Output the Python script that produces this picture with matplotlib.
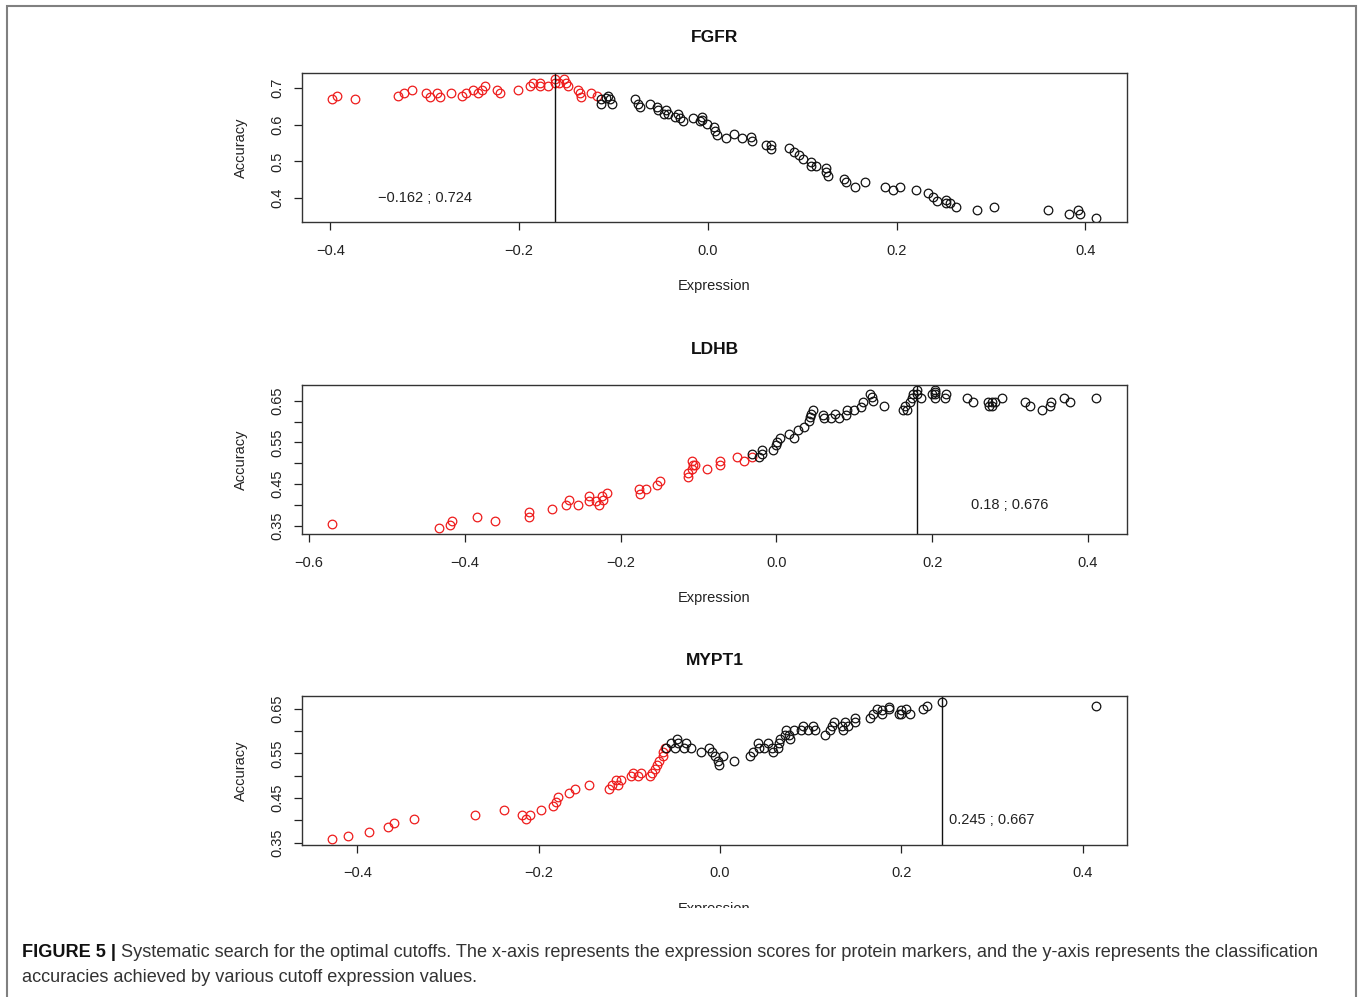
import matplotlib
matplotlib.use('Agg')
from matplotlib import pyplot as plt
from matplotlib.patches import Rectangle

plt.rcParams['font.family'] = ['Liberation Sans', 'DejaVu Sans']

names = ['FGFR', 'LDHB', 'MYPT1']
cutoffs = [-0.162, 0.18, 0.245]
notes = ['\u22120.162 ; 0.724', '0.18 ; 0.676', '0.245 ; 0.667']
note_x = [-0.3, 0.3, 0.3]
note_y = [0.4, 0.4, 0.4]

# FGFR
fgfr_red_x = [-0.398, -0.393, -0.374, -0.328, -0.322, -0.314, -0.299, -0.294, -0.287, -0.284,
              -0.272, -0.261, -0.256, -0.249, -0.244, -0.239, -0.236, -0.223, -0.220, -0.201,
              -0.189, -0.185, -0.178, -0.178, -0.169, -0.162, -0.162, -0.158, -0.152, -0.150,
              -0.148, -0.138, -0.136, -0.134, -0.124, -0.118]
fgfr_red_y = [0.669, 0.678, 0.669, 0.678, 0.686, 0.695, 0.686, 0.676, 0.686, 0.676,
              0.686, 0.678, 0.686, 0.695, 0.686, 0.695, 0.706, 0.695, 0.686, 0.695,
              0.706, 0.715, 0.715, 0.706, 0.706, 0.724, 0.715, 0.715, 0.724, 0.715,
              0.706, 0.695, 0.686, 0.676, 0.686, 0.678]
fgfr_blk_x = [-0.113, -0.113, -0.108, -0.106, -0.104, -0.102, -0.077, -0.074, -0.072, -0.061,
              -0.054, -0.053, -0.047, -0.044, -0.042, -0.035, -0.032, -0.030, -0.026, -0.016,
              -0.008, -0.006, -0.006, -0.001, 0.006, 0.008, 0.010, 0.019, 0.028, 0.036,
              0.046, 0.047, 0.062, 0.067, 0.067, 0.086, 0.091, 0.096, 0.101, 0.109,
              0.109, 0.114, 0.125, 0.125, 0.127, 0.144, 0.146, 0.156, 0.166, 0.188,
              0.196, 0.204, 0.220, 0.233, 0.238, 0.243, 0.252, 0.252, 0.256, 0.263,
              0.285, 0.303, 0.360, 0.383, 0.392, 0.394, 0.411]
fgfr_blk_y = [0.669, 0.656, 0.672, 0.678, 0.669, 0.656, 0.669, 0.656, 0.648, 0.656,
              0.648, 0.640, 0.630, 0.640, 0.630, 0.622, 0.630, 0.618, 0.611, 0.619,
              0.611, 0.622, 0.613, 0.602, 0.593, 0.583, 0.572, 0.565, 0.574, 0.565,
              0.567, 0.556, 0.545, 0.545, 0.534, 0.536, 0.527, 0.517, 0.506, 0.499,
              0.488, 0.488, 0.481, 0.470, 0.461, 0.452, 0.443, 0.431, 0.443, 0.431,
              0.422, 0.431, 0.422, 0.413, 0.404, 0.393, 0.395, 0.386, 0.386, 0.377,
              0.368, 0.377, 0.368, 0.356, 0.368, 0.356, 0.347]

# LDHB
ldhb_red_x = [-0.570, -0.433, -0.419, -0.417, -0.385, -0.361, -0.318, -0.318, -0.288, -0.270,
              -0.266, -0.255, -0.241, -0.240, -0.231, -0.228, -0.224, -0.223, -0.217, -0.176,
              -0.175, -0.167, -0.153, -0.149, -0.114, -0.113, -0.109, -0.107, -0.108, -0.105,
              -0.089, -0.073, -0.072, -0.051, -0.042, -0.032]
ldhb_red_y = [0.354, 0.344, 0.352, 0.362, 0.372, 0.362, 0.382, 0.372, 0.390, 0.400,
              0.411, 0.400, 0.409, 0.421, 0.409, 0.400, 0.421, 0.411, 0.428, 0.438,
              0.427, 0.438, 0.448, 0.457, 0.466, 0.477, 0.487, 0.495, 0.506, 0.495,
              0.487, 0.495, 0.505, 0.514, 0.505, 0.514]
ldhb_blk_x = [-0.032, -0.023, -0.018, -0.018, -0.004, -0.001, 0.001, 0.004, 0.016, 0.023,
              0.028, 0.035, 0.042, 0.043, 0.044, 0.047, 0.060, 0.061, 0.070, 0.075,
              0.080, 0.089, 0.090, 0.100, 0.108, 0.111, 0.120, 0.123, 0.124, 0.138,
              0.163, 0.167, 0.165, 0.171, 0.174, 0.175, 0.180, 0.180, 0.185, 0.200,
              0.203, 0.203, 0.204, 0.203, 0.216, 0.218, 0.244, 0.252, 0.272, 0.273,
              0.277, 0.277, 0.280, 0.290, 0.319, 0.326, 0.341, 0.351, 0.353, 0.369,
              0.377, 0.410]
ldhb_blk_y = [0.522, 0.514, 0.522, 0.532, 0.532, 0.544, 0.552, 0.560, 0.571, 0.560,
              0.580, 0.588, 0.601, 0.610, 0.618, 0.628, 0.616, 0.608, 0.608, 0.618,
              0.608, 0.616, 0.627, 0.627, 0.636, 0.647, 0.666, 0.658, 0.649, 0.637,
              0.627, 0.627, 0.637, 0.647, 0.656, 0.666, 0.676, 0.666, 0.656, 0.666,
              0.676, 0.666, 0.671, 0.656, 0.656, 0.666, 0.656, 0.647, 0.647, 0.637,
              0.647, 0.637, 0.647, 0.656, 0.647, 0.637, 0.627, 0.637, 0.647, 0.656,
              0.647, 0.656]

# MYPT1
mypt1_red_x = [-0.428, -0.410, -0.387, -0.366, -0.360, -0.337, -0.270, -0.238, -0.218, -0.214,
               -0.210, -0.197, -0.184, -0.181, -0.179, -0.167, -0.160, -0.144, -0.122, -0.119,
               -0.115, -0.112, -0.109, -0.098, -0.096, -0.090, -0.087, -0.077, -0.075, -0.072,
               -0.069, -0.067, -0.063, -0.063, -0.061]
mypt1_red_y = [0.358, 0.366, 0.375, 0.385, 0.394, 0.404, 0.413, 0.423, 0.413, 0.403,
               0.413, 0.423, 0.432, 0.442, 0.452, 0.461, 0.471, 0.479, 0.471, 0.479,
               0.491, 0.479, 0.491, 0.500, 0.507, 0.500, 0.507, 0.500, 0.507, 0.516,
               0.525, 0.534, 0.545, 0.554, 0.563]
mypt1_blk_x = [-0.060, -0.054, -0.050, -0.047, -0.046, -0.040, -0.038, -0.032, -0.021, -0.012,
               -0.009, -0.006, -0.002, -0.001, 0.003, 0.016, 0.033, 0.036, 0.042, 0.043,
               0.049, 0.053, 0.057, 0.058, 0.064, 0.065, 0.066, 0.072, 0.073, 0.076,
               0.077, 0.082, 0.089, 0.092, 0.097, 0.103, 0.105, 0.116, 0.121, 0.124,
               0.126, 0.135, 0.136, 0.138, 0.141, 0.149, 0.149, 0.166, 0.169, 0.173,
               0.179, 0.179, 0.187, 0.187, 0.197, 0.200, 0.200, 0.205, 0.210, 0.224,
               0.228, 0.245, 0.415]
mypt1_blk_y = [0.563, 0.573, 0.563, 0.582, 0.573, 0.563, 0.573, 0.563, 0.554, 0.563,
               0.554, 0.545, 0.534, 0.524, 0.545, 0.534, 0.545, 0.554, 0.573, 0.563,
               0.563, 0.573, 0.563, 0.554, 0.563, 0.573, 0.582, 0.592, 0.603, 0.592,
               0.582, 0.603, 0.603, 0.612, 0.602, 0.612, 0.602, 0.592, 0.603, 0.612,
               0.620, 0.611, 0.602, 0.620, 0.612, 0.620, 0.630, 0.630, 0.639, 0.650,
               0.648, 0.639, 0.655, 0.650, 0.639, 0.648, 0.639, 0.650, 0.639, 0.650,
               0.657, 0.666, 0.657]

red_x = [fgfr_red_x, ldhb_red_x, mypt1_red_x]
red_y = [fgfr_red_y, ldhb_red_y, mypt1_red_y]
blk_x = [fgfr_blk_x, ldhb_blk_x, mypt1_blk_x]
blk_y = [fgfr_blk_y, ldhb_blk_y, mypt1_blk_y]

xticks = [[-0.4, -0.2, 0.0, 0.2, 0.4],
          [-0.6, -0.4, -0.2, 0.0, 0.2, 0.4],
          [-0.4, -0.2, 0.0, 0.2, 0.4]]
xticklabels = [['\u22120.4', '\u22120.2', '0.0', '0.2', '0.4'],
               ['\u22120.6', '\u22120.4', '\u22120.2', '0.0', '0.2', '0.4'],
               ['\u22120.4', '\u22120.2', '0.0', '0.2', '0.4']]
yticks = [[0.4, 0.5, 0.6, 0.7],
          [0.35, 0.40, 0.45, 0.50, 0.55, 0.60, 0.65],
          [0.35, 0.40, 0.45, 0.50, 0.55, 0.60, 0.65]]
yticklabels = [['0.4', '0.5', '0.6', '0.7'],
               ['0.35', '', '0.45', '', '0.55', '', '0.65'],
               ['0.35', '', '0.45', '', '0.55', '', '0.65']]
xlims = [(-0.430, 0.444), (-0.609, 0.450), (-0.461, 0.449)]
ylims = [(0.335, 0.741), (0.330, 0.688), (0.345, 0.679)]

W, H = 1358, 997
fig = plt.figure(figsize=(W / 100, H / 100), dpi=100)
bottoms = [0.7773, 0.4644, 0.1525]

for i in range(3):
    ax = fig.add_axes([0.2224, bottoms[i], 0.6075, 0.1495])
    ax.plot(red_x[i], red_y[i], 'o', mfc='none', mec='#ee1c1c', ms=6.2, mew=0.9)
    ax.plot(blk_x[i], blk_y[i], 'o', mfc='none', mec='#111111', ms=6.2, mew=0.9)
    ax.axvline(cutoffs[i], color='#111111', lw=1.0)
    ax.text(note_x[i], note_y[i], notes[i], ha='center', va='center', fontsize=10.5, color='#222222')
    ax.set_xlim(xlims[i])
    ax.set_ylim(ylims[i])
    ax.set_xticks(xticks[i])
    ax.set_xticklabels(xticklabels[i])
    ax.set_yticks(yticks[i])
    ax.set_yticklabels(yticklabels[i], rotation=90, va='center')
    ax.tick_params(length=6, width=0.9, color='#222222', labelsize=10.5, labelcolor='#222222')
    ax.tick_params(axis='x', pad=9.5)
    ax.tick_params(axis='y', pad=7)
    for s in ax.spines.values():
        s.set_linewidth(1.0)
        s.set_color('#333333')
    ax.set_xlabel('Expression', fontsize=10.5, color='#222222', va='center')
    ax.xaxis.set_label_coords(0.5, -0.43)
    ax.set_ylabel('Accuracy', fontsize=10.5, color='#222222', va='center')
    ax.yaxis.set_label_coords(-0.074, 0.5)
    ax.text(0.5, 1.24, names[i], transform=ax.transAxes, ha='center', va='center',
            fontsize=12.5, fontweight='bold', color='#111111')

# white strip that cuts off the bottom of the last panel, as in the source figure
fig.add_artist(Rectangle((10 / W, 1 - 935 / H), 1340 / W, 27 / H, transform=fig.transFigure,
                         facecolor='white', edgecolor='none', zorder=10))
# gray frame
fig.add_artist(Rectangle((7 / W, -0.02), 1349 / W, 1 - 6 / H + 0.02, transform=fig.transFigure,
                         fill=False, edgecolor='#808080', lw=1.5, zorder=11))

fs = 13
t0 = fig.text(22 / W, 1 - 952 / H, 'FIGURE 5 |', fontsize=fs, fontweight='bold',
              color='#111111', va='center', zorder=12)
line1 = ('Systematic search for the optimal cutoffs. The x-axis represents the expression scores '
         'for protein markers, and the y-axis represents the classification')
line2 = 'accuracies achieved by various cutoff expression values.'
t1 = fig.text(122 / W, 1 - 952 / H, line1, fontsize=fs, color='#333333', va='center', zorder=12)
t2 = fig.text(22 / W, 1 - 977 / H, line2, fontsize=fs, color='#333333', va='center', zorder=12)

fig.canvas.draw()
r = fig.canvas.get_renderer()
bb0 = t0.get_window_extent(r)
t1.set_x((bb0.x1 + 5) / W)
w1 = t1.get_window_extent(r).width
nfs = fs * (1316 - bb0.x1 - 5) / w1
for t in (t0, t1, t2):
    t.set_fontsize(nfs)
fig.canvas.draw()
bb0 = t0.get_window_extent(r)
t1.set_x((bb0.x1 + 5) / W)

fig.savefig('out.png', dpi=100)
